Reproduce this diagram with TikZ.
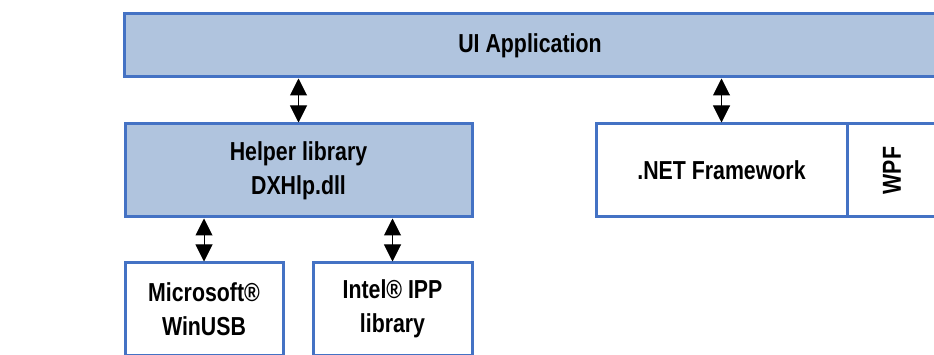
\documentclass[tikz,border=0pt]{standalone}
\usepackage{fontspec}
\setmainfont{Liberation Sans}[FakeStretch=0.82]
\usetikzlibrary{arrows.meta}
\definecolor{boxblue}{RGB}{68,114,196}
\definecolor{boxfill}{RGB}{176,196,222}

\begin{document}
\begin{tikzpicture}[x=1pt, y=-1pt,
    every node/.style={rectangle, draw=boxblue, line width=3pt, inner sep=0pt, align=center,
      font=\fontsize{26}{34}\selectfont\bfseries},
    layer/.style={fill=boxfill},
    link/.style={line width=1pt, {Triangle[length=17pt,width=17pt]}-{Triangle[length=17pt,width=17pt]}}]
    \useasboundingbox (0,0) rectangle (934,355);
    \clip (0,0) rectangle (934,355);
    \node[layer, minimum width=812pt, minimum height=63pt] (ui) at (530,45.5) {UI Application};
    \node[layer, minimum width=347pt, minimum height=93pt] (helper) at (298.5,170.5) {Helper library\\DXHlp.dll};
    \node[minimum width=251pt, minimum height=93pt] (dotnet) at (721.5,170.5) {.NET Framework};
    \node[minimum width=90pt, minimum height=93pt] (wpf) at (892,170.5) {\rotatebox{90}{WPF}};
    \node[minimum width=158pt, minimum height=92pt] (winusb) at (204,309) {Microsoft®\\WinUSB};
    \node[minimum width=159pt, minimum height=92pt] (ipp) at (392.5,309) {Intel® IPP\\library};

    \draw[link] (helper.north) -- (helper.north |- ui.south);
    \draw[link] (dotnet.north) -- (dotnet.north |- ui.south);
    \draw[link] (winusb.north) -- (winusb.north |- helper.south);
    \draw[link] (ipp.north) -- (ipp.north |- helper.south);
\end{tikzpicture}
\end{document}
